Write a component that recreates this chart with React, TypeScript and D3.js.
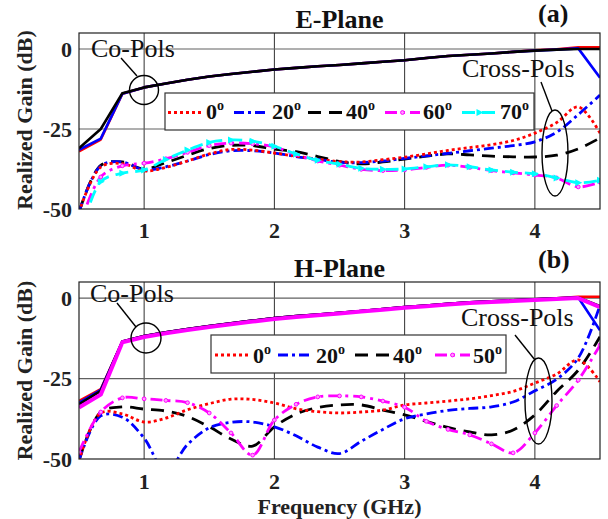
import React from "react";
import * as d3 from "d3";

// Frequency samples (GHz)
const freq = [0.5, 0.667, 0.833, 1, 1.167, 1.333, 1.5, 1.667, 1.833, 2, 2.167, 2.333, 2.5, 2.667, 2.833, 3, 3.167, 3.333, 3.5, 3.667, 3.833, 4, 4.167, 4.333, 4.5];

// E-plane, co-polar gain (dB)
const eCo0 = [-32, -28.3, -14, -12, -10.8, -9.6, -8.6, -7.8, -7.1, -6.4, -5.9, -5.4, -5, -4.5, -4, -3.5, -2.8, -2.2, -1.8, -1.4, -0.9, -0.4, -0.1, 0.5, 0.5];
const eCo20 = [-31.5, -28, -14, -12, -10.8, -9.6, -8.6, -7.8, -7.1, -6.4, -5.9, -5.4, -5, -4.5, -4, -3.5, -2.8, -2.2, -1.8, -1.4, -0.9, -0.5, -0.2, 0.2, -9];
const eCo40 = [-31, -25, -13.8, -12, -10.8, -9.6, -8.6, -7.8, -7.1, -6.4, -5.9, -5.4, -5, -4.5, -4, -3.5, -2.8, -2.2, -1.8, -1.4, -0.9, -0.5, -0.2, 0, 0];

// E-plane, cross-polar gain (dB)
const eX0 = [-51, -36.9, -35.8, -38.1, -37, -35, -32.8, -31.4, -31.6, -32.5, -33.5, -34.4, -35.2, -35.3, -34.6, -33.8, -32.8, -31.7, -30.8, -29.9, -28.6, -26.3, -23, -18.1, -26.3];
const eX20 = [-51, -36.5, -35.3, -37.8, -36.8, -35, -33, -31.8, -31.8, -32.5, -33.6, -34.5, -35.4, -35.5, -35, -34.2, -33.4, -32.6, -31.8, -31, -30.2, -29, -26, -20.5, -14.4];
const eX40 = [-51, -36.4, -35.3, -37.5, -35.5, -33.2, -31.1, -30.1, -30.2, -31.3, -32.1, -33.6, -35.2, -35.9, -35.3, -34.4, -33.5, -32.8, -33.1, -33.5, -33.7, -33.75, -33.2, -31.2, -27.8];
const eX60 = [-56, -40, -36.5, -35.7, -34.3, -32.3, -30.2, -29.4, -29.6, -30.6, -33, -35, -36.3, -37.6, -38, -37.8, -37, -36.3, -37, -38, -38.7, -39.4, -40.3, -43.1, -41.6];
const eX70 = [-60, -41.5, -38.8, -37.8, -34.5, -31.6, -29.2, -28.4, -28.8, -30.4, -32.8, -34.8, -36, -37.3, -37.6, -37.5, -36.8, -36.2, -36.8, -37.8, -38.5, -39, -40.3, -41.8, -41];

// H-plane, co-polar gain (dB)
const hCo0 = [-32, -28.3, -13.5, -11.8, -10.6, -9.6, -8.7, -7.8, -7, -6.2, -5.6, -5.1, -4.6, -4, -3.4, -2.8, -2.3, -1.8, -1.3, -1, -0.7, -0.4, -0.1, 0.4, 0.4];
const hCo20 = [-32.5, -28.5, -13.5, -11.8, -10.6, -9.6, -8.7, -7.8, -7, -6.2, -5.6, -5.1, -4.6, -4, -3.4, -2.8, -2.3, -1.8, -1.3, -1, -0.7, -0.4, -0.1, 0.2, -10];
const hCo40 = [-33, -28.8, -13.5, -11.8, -10.6, -9.6, -8.7, -7.8, -7, -6.2, -5.6, -5.1, -4.6, -4, -3.4, -2.8, -2.3, -1.8, -1.3, -1, -0.7, -0.4, -0.1, 0.2, -2.5];
const hCo50 = [-34, -30, -13.7, -12.1, -10.9, -9.9, -9, -8.1, -7.3, -6.5, -5.9, -5.3, -4.8, -4.2, -3.6, -3, -2.5, -2, -1.5, -1.2, -0.9, -0.6, -0.3, 0, -2.8];

// H-plane, cross-polar gain (dB)
const hX0 = [-50.5, -35.7, -36, -38.5, -37.3, -34.7, -32.8, -31.4, -31.5, -32.6, -34.4, -35.3, -35.7, -35.4, -34.8, -33.2, -32.6, -32, -31.3, -30.3, -29, -26.4, -23.6, -19.2, -26];
const hX20 = [-50.5, -36.6, -37, -43.5, -54, -45.5, -40.3, -38.6, -38.5, -40, -42.8, -46.3, -48.3, -44.5, -40.8, -37.5, -36, -34.9, -34.3, -33.8, -32.3, -28.8, -25.2, -18.6, -2.2];
const hX40 = [-50.5, -35.4, -33.8, -34.5, -35.1, -36.8, -40, -43.8, -46, -40, -36, -34, -33.2, -33.2, -34.8, -36.3, -38.3, -40.2, -41.6, -42.5, -41, -36.3, -29, -22.4, -12];
const hX50 = [-47.8, -35.4, -31, -31.3, -31.8, -32.5, -35.7, -41.9, -48.8, -37.9, -33, -30.7, -30.4, -30.7, -32, -33.9, -38.3, -40.8, -42.5, -45.3, -48.1, -41.9, -33.4, -25.5, -14.6];

const eAngles = ["0", "20", "40", "60", "70"];
const hAngles = ["0", "20", "40", "50"];

const xTicks = [1, 2, 3, 4];
const yTicks = [0, -25, -50];
const yGrid = [0, -25];

type StyleKey = "red" | "blue" | "black" | "magenta" | "cyan";
const STYLES: Record<StyleKey, { color: string; dash: string; marker?: "circle" | "tri" }> = {
  red: { color: "#ff0000", dash: "3,3" },
  blue: { color: "#0000ff", dash: "10,4,3,4" },
  black: { color: "#000000", dash: "13,8" },
  magenta: { color: "#ff00ff", dash: "12,5,3,5", marker: "circle" },
  cyan: { color: "#00ffff", dash: "13,7", marker: "tri" },
};

const FONT = "'Liberation Serif', 'Times New Roman', serif";
const X0 = 79;
const X1 = 600;
const x = d3.scaleLinear().domain([0.5, 4.5]).range([X0, X1]);

type Series = { values: number[]; style: StyleKey; width?: number };

type PanelProps = {
  id: string;
  yTop: number;
  yBot: number;
  title: string;
  titleY: number;
  tag: string;
  tagY: number;
  xTickY: number;
  yLabelY: number;
  co: Series[];
  cross: Series[];
  angles: string[];
  angleStyles: StyleKey[];
  legend: { x0: number; x1: number; y0: number; y1: number; entries: number[]; base: number };
  coText: { x: number; y: number };
  coCircle: { cx: number; cy: number; r: number };
  coLine: number[];
  crossText: { x: number; y: number };
  crossEllipse: { cx: number; cy: number; rx: number; ry: number };
  crossLine: number[];
};

function Marker({ kind, cx, cy, color }: { kind: "circle" | "tri"; cx: number; cy: number; color: string }) {
  if (kind === "circle") {
    return <circle cx={cx} cy={cy} r={1.9} fill="#ff9cff" stroke={color} strokeWidth={1} />;
  }
  return <path d={`M${cx - 3},${cy - 3.5} L${cx + 4},${cy} L${cx - 3},${cy + 3.5} Z`} fill={color} />;
}

function Panel(p: PanelProps) {
  const y = d3.scaleLinear().domain([-50, 5]).range([p.yBot, p.yTop]);
  const straight = d3.line<number>().x((_, i) => x(freq[i])).y((v) => y(v));
  const smooth = d3
    .line<number>()
    .x((_, i) => x(freq[i]))
    .y((v) => y(v))
    .curve(d3.curveCatmullRom.alpha(0.5));
  const clip = `clip-${p.id}`;
  const L = p.legend;
  const midY = (L.y0 + L.y1) / 2 + 1;

  return (
    <g>
      <defs>
        <clipPath id={clip}>
          <rect x={X0} y={p.yTop} width={X1 - X0} height={p.yBot - p.yTop} />
        </clipPath>
      </defs>

      {/* grid */}
      {xTicks.map((t) => (
        <line key={"gx" + t} x1={x(t)} x2={x(t)} y1={p.yTop} y2={p.yBot} stroke="#303030" strokeWidth={1} />
      ))}
      {yGrid.map((t) => (
        <line key={"gy" + t} x1={X0} x2={X1} y1={y(t)} y2={y(t)} stroke="#606060" strokeWidth={1.2} />
      ))}

      <g clipPath={`url(#${clip})`}>
        {p.co.map((s, i) => (
          <path
            key={"co" + i}
            d={straight(s.values) || ""}
            fill="none"
            stroke={STYLES[s.style].color}
            strokeWidth={s.width ?? 2.6}
            strokeLinejoin="round"
          />
        ))}
        {p.cross.map((s, i) => {
          const st = STYLES[s.style];
          return (
            <g key={"x" + i}>
              <path d={smooth(s.values) || ""} fill="none" stroke={st.color} strokeWidth={2.8} strokeDasharray={st.dash} />
              {st.marker &&
                s.values.map((v, j) => (
                  <Marker key={j} kind={st.marker!} cx={x(freq[j])} cy={y(v)} color={st.color} />
                ))}
            </g>
          );
        })}
      </g>

      {/* frame */}
      <rect x={X0} y={p.yTop} width={X1 - X0} height={p.yBot - p.yTop} fill="none" stroke="#202020" strokeWidth={1.2} />

      {/* tick labels */}
      {yTicks.map((t) => (
        <text key={"ty" + t} x={72} y={y(t) + 7.5} textAnchor="end" fontFamily={FONT} fontWeight="bold" fontSize={22} fill="#222">
          {String(t)}
        </text>
      ))}
      {xTicks.map((t) => (
        <text key={"tx" + t} x={x(t)} y={p.xTickY} textAnchor="middle" fontFamily={FONT} fontWeight="bold" fontSize={22} fill="#222">
          {String(t)}
        </text>
      ))}
      <text
        transform={`translate(32,${p.yLabelY}) rotate(-90)`}
        textAnchor="middle"
        fontFamily={FONT}
        fontWeight="bold"
        fontSize={22}
        fill="#222"
      >
        Realized Gain (dB)
      </text>

      <text x={(X0 + X1) / 2} y={p.titleY} textAnchor="middle" fontFamily={FONT} fontWeight="bold" fontSize={26} fill="#111">
        {p.title}
      </text>
      <text x={538} y={p.tagY} fontFamily={FONT} fontWeight="bold" fontSize={26} fill="#111">
        {p.tag}
      </text>

      {/* legend */}
      <rect x={L.x0} y={L.y0} width={L.x1 - L.x0} height={L.y1 - L.y0} fill="#fff" stroke="#333" strokeWidth={1.2} />
      {p.angles.map((a, i) => {
        const st = STYLES[p.angleStyles[i]];
        const sx = L.entries[i];
        return (
          <g key={"lg" + i}>
            <line x1={sx} x2={sx + 35} y1={midY} y2={midY} stroke={st.color} strokeWidth={2.8} strokeDasharray={st.dash} />
            {st.marker && <Marker kind={st.marker} cx={sx + 17.5} cy={midY} color={st.color} />}
            <text x={sx + 38} y={L.base} fontFamily={FONT} fontWeight="bold" fontSize={22} fill="#111">
              <tspan>{a}</tspan>
              <tspan dy={-9} fontSize={14}>
                o
              </tspan>
            </text>
          </g>
        );
      })}

      {/* annotations */}
      <text x={p.coText.x} y={p.coText.y} fontFamily={FONT} fontSize={26} fill="#111">
        Co-Pols
      </text>
      <circle cx={p.coCircle.cx} cy={p.coCircle.cy} r={p.coCircle.r} fill="none" stroke="#000" strokeWidth={1.4} />
      <line x1={p.coLine[0]} y1={p.coLine[1]} x2={p.coLine[2]} y2={p.coLine[3]} stroke="#000" strokeWidth={1.4} />
      <text x={p.crossText.x} y={p.crossText.y} fontFamily={FONT} fontSize={26} fill="#111">
        Cross-Pols
      </text>
      <ellipse
        cx={p.crossEllipse.cx}
        cy={p.crossEllipse.cy}
        rx={p.crossEllipse.rx}
        ry={p.crossEllipse.ry}
        fill="none"
        stroke="#000"
        strokeWidth={1.4}
      />
      <line x1={p.crossLine[0]} y1={p.crossLine[1]} x2={p.crossLine[2]} y2={p.crossLine[3]} stroke="#000" strokeWidth={1.4} />
    </g>
  );
}

export default function App() {
  return (
    <svg width={608} height={519} style={{ position: "absolute", left: 0, top: 0, background: "#fff" }}>
      <rect width={608} height={519} fill="#fff" />
      <Panel
        id="e"
        yTop={33}
        yBot={209}
        title="E-Plane"
        titleY={28}
        tag="(a)"
        tagY={22}
        xTickY={238}
        yLabelY={120}
        co={[
          { values: eCo0, style: "red" },
          { values: eCo20, style: "blue" },
          { values: eCo40, style: "black" },
        ]}
        cross={[
          { values: eX40, style: "black" },
          { values: eX20, style: "blue" },
          { values: eX0, style: "red" },
          { values: eX60, style: "magenta" },
          { values: eX70, style: "cyan" },
        ]}
        angles={eAngles}
        angleStyles={["red", "blue", "black", "magenta", "cyan"]}
        legend={{ x0: 165, x1: 534, y0: 93, y1: 130, entries: [168, 234, 308, 385, 462], base: 118.5 }}
        coText={{ x: 91, y: 57 }}
        coCircle={{ cx: 144, cy: 90, r: 14.5 }}
        coLine={[121, 58, 137, 76]}
        crossText={{ x: 462, y: 77 }}
        crossEllipse={{ cx: 555, cy: 153, rx: 13, ry: 43 }}
        crossLine={[541, 82, 552, 111]}
      />
      <Panel
        id="h"
        yTop={282}
        yBot={459}
        title="H-Plane"
        titleY={277}
        tag="(b)"
        tagY={268}
        xTickY={489}
        yLabelY={370.5}
        co={[
          { values: hCo0, style: "red" },
          { values: hCo20, style: "blue" },
          { values: hCo40, style: "black" },
          { values: hCo50, style: "magenta", width: 4 },
        ]}
        cross={[
          { values: hX40, style: "black" },
          { values: hX20, style: "blue" },
          { values: hX0, style: "red" },
          { values: hX50, style: "magenta" },
        ]}
        angles={hAngles}
        angleStyles={["red", "blue", "black", "magenta"]}
        legend={{ x0: 211, x1: 506, y0: 335, y1: 373, entries: [215, 278, 355, 435], base: 363 }}
        coText={{ x: 90, y: 302 }}
        coCircle={{ cx: 146, cy: 338, r: 15 }}
        coLine={[117, 303, 136, 327]}
        crossText={{ x: 461, y: 326 }}
        crossEllipse={{ cx: 538.5, cy: 401, rx: 13.5, ry: 43 }}
        crossLine={[515, 335, 535, 360]}
      />
      <text x={339.5} y={514} textAnchor="middle" fontFamily={FONT} fontWeight="bold" fontSize={22} fill="#222">
        Frequency (GHz)
      </text>
    </svg>
  );
}
